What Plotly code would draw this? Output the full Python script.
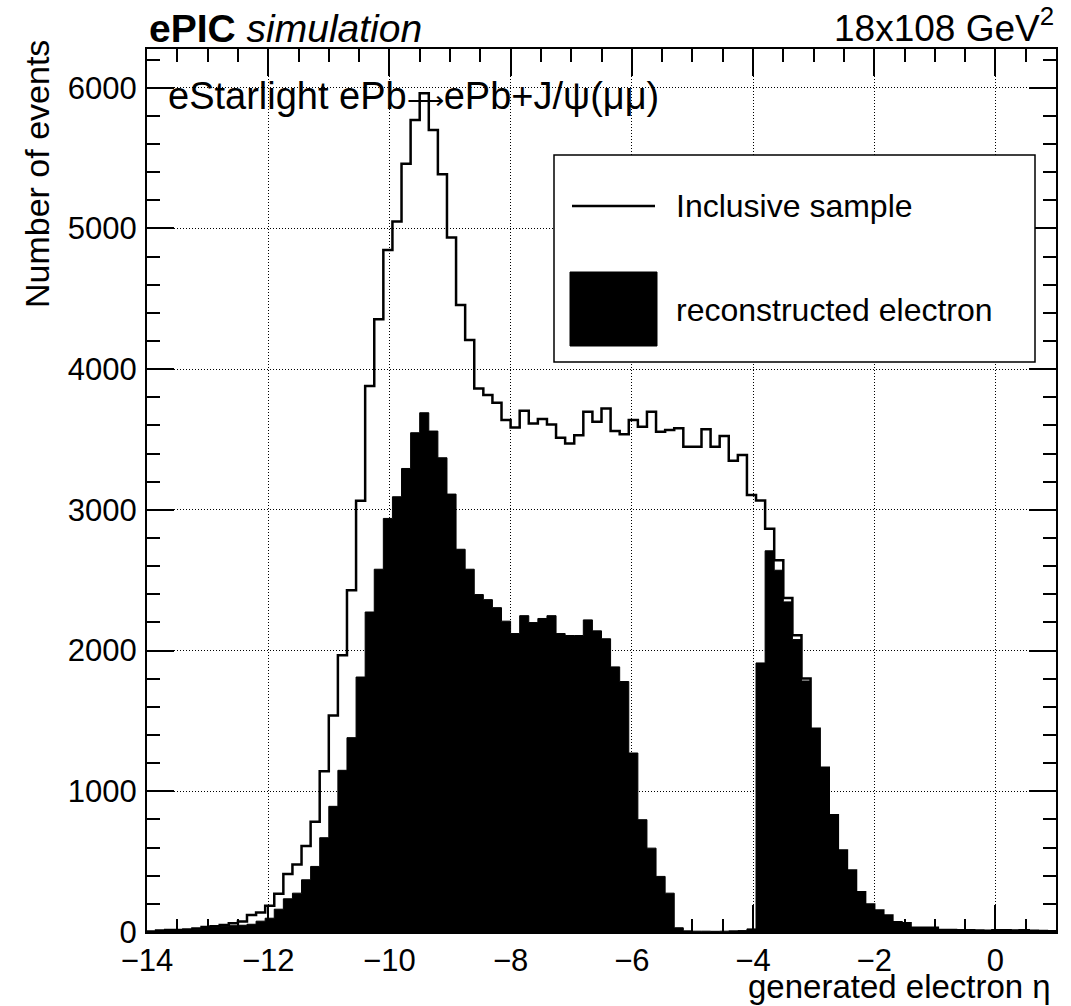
import plotly.graph_objects as go

# ---- histogram definition: 100 bins of width 0.15 from -14 to 1 ----
bin_lo = -14.0
bin_width = 0.15
n_bins = 100

inclusive = [
    4, 10, 14, 15, 18, 25, 35, 40, 50, 62,
    75, 120, 138, 186, 271, 413, 480, 612, 783, 1143,
    1539, 1966, 2429, 3064, 3880, 4354, 4847, 5049, 5459, 5770,
    5960, 5700, 5385, 4935, 4456, 4207, 3863, 3816, 3761, 3638,
    3586, 3704, 3614, 3645, 3607, 3512, 3472, 3531, 3697, 3626,
    3721, 3560, 3538, 3638, 3590, 3697, 3555, 3567, 3579, 3448,
    3448, 3572, 3448, 3524, 3349, 3389, 3105, 3066, 2865, 2642,
    2374, 2109, 1801, 1445, 1168, 829, 580, 437, 283, 196,
    153, 117, 70, 63, 30, 30, 30, 15, 14, 12,
    12, 10, 9, 12, 13, 10, 12, 8, 7, 6,
]

reconstructed = [
    3, 8, 10, 12, 14, 20, 28, 33, 40, 45,
    48, 55, 77, 98, 162, 236, 276, 371, 466, 670,
    893, 1149, 1381, 1812, 2274, 2578, 2939, 3093, 3294, 3548,
    3690, 3560, 3370, 3112, 2720, 2578, 2398, 2362, 2305, 2209,
    2121, 2248, 2199, 2228, 2248, 2121, 2107, 2107, 2218, 2140,
    2084, 1884, 1780, 1272, 798, 596, 395, 276, 30, 8,
    6, 6, 5, 6, 8, 10, 22, 1912, 2709, 2571,
    2346, 2078, 1784, 1445, 1168, 829, 580, 437, 283, 196,
    153, 117, 70, 63, 30, 30, 30, 15, 14, 12,
    12, 10, 9, 12, 13, 10, 12, 8, 7, 6,
]

x_ticks = [-14, -12, -10, -8, -6, -4, -2, 0]
y_ticks = [0, 1000, 2000, 3000, 4000, 5000, 6000]

edges = [bin_lo + bin_width * i for i in range(n_bins + 1)]

FONT = "Liberation Sans, Arial, Helvetica, sans-serif"

fig = go.Figure()

# filled histogram (reconstructed electron)
fig.add_trace(go.Scatter(
    x=edges, y=reconstructed + [reconstructed[-1]],
    mode="lines", line=dict(shape="hv", color="black", width=1),
    fill="tozeroy", fillcolor="black", showlegend=False, hoverinfo="skip",
))
# outline histogram (inclusive sample)
fig.add_trace(go.Scatter(
    x=edges, y=inclusive + [inclusive[-1]],
    mode="lines", line=dict(shape="hv", color="black", width=2.5),
    showlegend=False, hoverinfo="skip",
))

L, R, T, B = 147, 15, 49, 74
W, H = 1071, 1006
PW, PH = W - L - R, H - T - B


def px(xp):
    return (xp - L) / PW


def py(yp):
    return (H - B - yp) / PH


axis_common = dict(
    showline=True, linecolor="black", linewidth=2, mirror="allticks",
    ticks="inside", ticklen=27, tickwidth=1.5, tickcolor="black",
    showgrid=True, gridcolor="black", gridwidth=1, griddash="1px,2px",
    zeroline=False, tickfont=dict(family=FONT, size=31, color="black"),
)

fig.update_xaxes(
    range=[bin_lo, bin_lo + bin_width * n_bins],
    tickvals=x_ticks,
    ticklabelstandoff=0,
    minor=dict(dtick=0.5, tick0=0, ticks="inside", ticklen=13, tickwidth=1.5,
               tickcolor="black", showgrid=False),
    **axis_common,
)
fig.update_yaxes(
    range=[0, 6275],
    tickvals=y_ticks,
    ticklabelstandoff=2,
    minor=dict(dtick=200, tick0=0, ticks="inside", ticklen=13, tickwidth=1.5,
               tickcolor="black", showgrid=False),
    **axis_common,
)

shapes = [
    # legend box
    dict(type="rect", xref="paper", yref="paper", x0=px(554), x1=px(1035),
         y0=py(362), y1=py(155), line=dict(color="black", width=1.5),
         fillcolor="white", layer="above"),
    # legend line sample
    dict(type="line", xref="paper", yref="paper", x0=px(572), x1=px(655),
         y0=py(206), y1=py(206), line=dict(color="black", width=2.5), layer="above"),
    # legend filled sample
    dict(type="rect", xref="paper", yref="paper", x0=px(570), x1=px(657),
         y0=py(346), y1=py(272), line=dict(color="black", width=1),
         fillcolor="black", layer="above"),
]

ARROW = '<span style="font-size:26px">\u27f6</span>'

annotations = [
    dict(text="<b>ePIC</b> <i>simulation</i>", xref="paper", yref="paper",
         x=0, y=1, xanchor="left", yanchor="bottom", yshift=-3, showarrow=False,
         font=dict(family=FONT, size=39, color="black")),
    dict(text="18x108 GeV<sup>2</sup>", xref="paper", yref="paper",
         x=1, y=1, xanchor="right", yanchor="bottom", yshift=-2, showarrow=False,
         font=dict(family=FONT, size=37, color="black")),
    dict(text="eStarlight ePb" + ARROW + "ePb+J/\u03c8(\u03bc\u03bc)", xref="paper", yref="paper",
         x=px(166), y=py(96), xanchor="left", yanchor="middle", showarrow=False,
         font=dict(family=FONT, size=38, color="black")),
    dict(text="Inclusive sample", xref="paper", yref="paper",
         x=px(674), y=py(206), xanchor="left", yanchor="middle", showarrow=False,
         font=dict(family=FONT, size=32, color="black")),
    dict(text="reconstructed electron", xref="paper", yref="paper",
         x=px(674), y=py(310), xanchor="left", yanchor="middle", showarrow=False,
         font=dict(family=FONT, size=32, color="black")),
    dict(text="Number of events", xref="paper", yref="paper",
         x=px(37), y=py(38), xanchor="center", yanchor="top", textangle=-90,
         showarrow=False, font=dict(family=FONT, size=34, color="black")),
    dict(text="generated electron \u03b7", xref="paper", yref="paper",
         x=1, y=py(1006), xanchor="right", yanchor="bottom", xshift=-4,
         borderpad=0, showarrow=False,
         font=dict(family=FONT, size=33, color="black")),
]

fig.update_layout(
    width=W, height=H,
    margin=dict(l=L, r=R, t=T, b=B, pad=0),
    paper_bgcolor="white", plot_bgcolor="white",
    showlegend=False,
    shapes=shapes, annotations=annotations,
    font=dict(family=FONT, color="black"),
)

fig.write_html("out.html")
